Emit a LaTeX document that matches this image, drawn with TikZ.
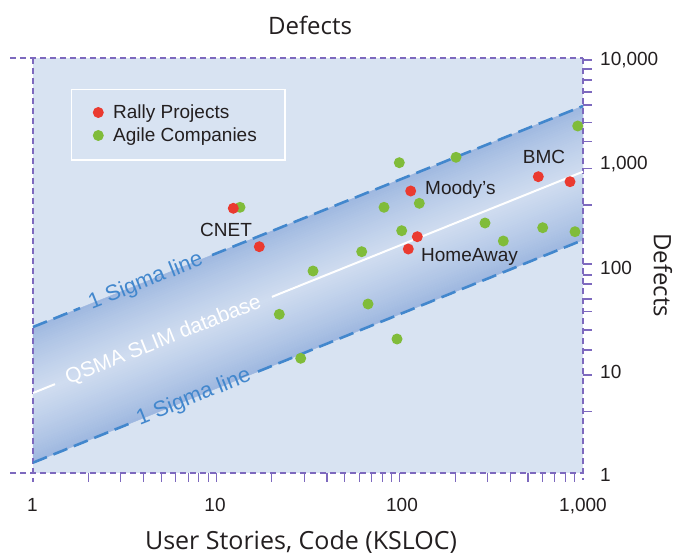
\documentclass[tikz,border=0pt]{standalone}
\usepackage{fontspec}
\setmainfont{Liberation Sans}
\newfontfamily\titlefont{Open Sans}
\usetikzlibrary{calc}
\definecolor{bgblue}{RGB}{216,227,242}
\definecolor{bandedge}{RGB}{156,182,223}
\definecolor{bandmid}{RGB}{208,221,240}
\definecolor{framepurple}{RGB}{125,105,190}
\definecolor{sigmablue}{RGB}{66,135,205}
\definecolor{rallyred}{RGB}{234,58,48}
\definecolor{agilegreen}{RGB}{128,188,58}
\definecolor{textgray}{RGB}{35,31,32}
\tikzset{
  frameline/.style={draw=framepurple, line width=1.1pt, dash pattern=on 6pt off 4pt},
  axtick/.style={draw=framepurple, line width=1.1pt},
  sigmaline/.style={draw=sigmablue, line width=2.6pt, dash pattern=on 15pt off 7pt},
  midline/.style={draw=white, line width=2pt},
  rdot/.style={circle, fill=rallyred, minimum size=11pt, inner sep=0pt},
  gdot/.style={circle, fill=agilegreen, minimum size=11pt, inner sep=0pt},
  lbl/.style={font=\fontsize{19}{22}\selectfont, text=textgray, inner sep=0pt},
  sigmatext/.style={font=\fontsize{22}{25}\selectfont, text=sigmablue, inner sep=0pt, rotate=21.9},
  dbtext/.style={font=\fontsize{21}{24}\selectfont, text=white, inner sep=0pt, rotate=21.9},
  axtitle/.style={font=\titlefont\fontsize{24}{28}\selectfont, text=textgray, inner sep=0pt}
}
\begin{document}
\begin{tikzpicture}[x=1pt,y=-1pt]
\useasboundingbox (0,0) rectangle (674,556);
\fill[white] (0,0) rectangle (674,556);
\fill[bgblue] (33,58) rectangle (583,473);
\coordinate (U0) at (33,327);
\coordinate (U1) at (583,106);
\coordinate (L0) at (33,462.7);
\coordinate (L1) at (583,240);
\coordinate (C0) at (33,393);
\coordinate (C1) at (583,171.7);
% gradient band drawn as strips
\foreach \i in {0,...,59}{
  \pgfmathsetmacro\ta{\i/60}
  \pgfmathsetmacro\tb{(\i+1)/60}
  \pgfmathsetmacro\tm{(\i+0.5)/60}
  \pgfmathsetmacro\pct{100*(1-abs(2*\tm-1))^0.8}
  \fill[bandmid!\pct!bandedge, draw=bandmid!\pct!bandedge, line width=0.4pt]
    ($(U0)!\ta!(L0)$) -- ($(U1)!\ta!(L1)$) -- ($(U1)!\tb!(L1)$) -- ($(U0)!\tb!(L0)$) -- cycle;
}
% frame
\draw[frameline] (10,58) -- (583,58);
\draw[frameline] (10,473) -- (583,473);
\draw[frameline] (33,58) -- (33,482);
\draw[frameline] (583,58) -- (583,480);
% x ticks
\foreach \d in {0,1,2}{
  \foreach \m in {2,...,9}{
    \draw[axtick] ({33.3+183.3*(\d+log10(\m))},473) -- ++(0,9);
  }
}
\foreach \d in {1,2}{
  \draw[axtick] ({33.3+183.3*\d},473) -- ++(0,9);
}
% y ticks
\foreach \yy in {60,69,80,92,105,122.7,141.7,168.3,205,264,275,284,299,311.7,330,350,375,411.7}{
  \draw[axtick] (583,\yy) -- ++(9,0);
}
% sigma and centre lines
\draw[sigmaline] (U0) -- ($(U0)!0.0855!(U1)$);
\draw[sigmaline] ($(U0)!0.3255!(U1)$) -- (U1);
\draw[sigmaline] (L0) -- ($(L0)!0.1764!(L1)$);
\draw[sigmaline] ($(L0)!0.409!(L1)$) -- (L1);
\draw[midline] (C0) -- ($(C0)!0.04!(C1)$);
\draw[midline] ($(C0)!0.4345!(C1)$) -- (C1);
\node[sigmatext] (s1) at ($(U0)!0.2055!(U1)$) {1 Sigma line};
\node[sigmatext] (s2) at ($(L0)!0.2927!(L1)$) {1 Sigma line};
\node[dbtext] (db) at ($(C0)!0.2373!(C1)$) {QSMA SLIM database};
% legend
\draw[white, line width=1.5pt] (71.7,89.3) rectangle (285,160);
\node[rdot] (lr) at (98.3,112.5) {};
\node[gdot] (lg) at (98.3,135.5) {};
\node[lbl, anchor=base west] (lrt) at (113,118.5) {Rally Projects};
\node[lbl, anchor=base west] (lgt) at (113,141.5) {Agile Companies};
% green points
\foreach \px/\py [count=\i] in {399.3/162.7, 456/157.3, 240/207.3, 384/207.3, 419.3/203.3, 401.7/230.7, 361.7/251.7, 313/271, 279.3/314.3, 300.7/358.3, 368/304, 397/339, 485/223, 503.3/241, 542.7/227.7, 575/231.7, 577.7/126}{
  \node[gdot] (g\i) at (\px,\py) {};
}
% red points
\foreach \px/\py [count=\i] in {233.3/208.3, 259.3/246.7, 410.7/191, 417.3/236.7, 408.3/249, 538.3/176.7, 570/181.7}{
  \node[rdot] (r\i) at (\px,\py) {};
}
% point labels
\node[lbl, anchor=base] (cnet) at (226,236.6) {CNET};
\node[lbl, anchor=base west] (moody) at (425,194) {Moody’s};
\node[lbl, anchor=base west] (home) at (421,261.6) {HomeAway};
\node[lbl, anchor=base] (bmc) at (544,163.6) {BMC};
% axis numbers
\node[lbl, anchor=base west] (y4) at (600,65.6) {10,000};
\node[lbl, anchor=base west] (y3) at (600,169.6) {1,000};
\node[lbl, anchor=base west] (y2) at (600,274.6) {100};
\node[lbl, anchor=base west] (y1) at (600,378.6) {10};
\node[lbl, anchor=base west] (y0) at (600,481.6) {1};
\node[lbl, anchor=base] (x0) at (32.5,511.6) {1};
\node[lbl, anchor=base] (x1) at (215,511.6) {10};
\node[lbl, anchor=base] (x2) at (402,511.6) {100};
\node[lbl, anchor=base] (x3) at (583,511.6) {1,000};
% axis titles
\node[axtitle] (ttop) at (310,25) {Defects};
\node[axtitle, anchor=base, font=\titlefont\fontsize{25}{28}\selectfont] (tbot) at (301,549.5) {User Stories, Code (KSLOC)};
\node[axtitle, rotate=-90] (tright) at (663,275) {Defects};
\end{tikzpicture}
\end{document}
